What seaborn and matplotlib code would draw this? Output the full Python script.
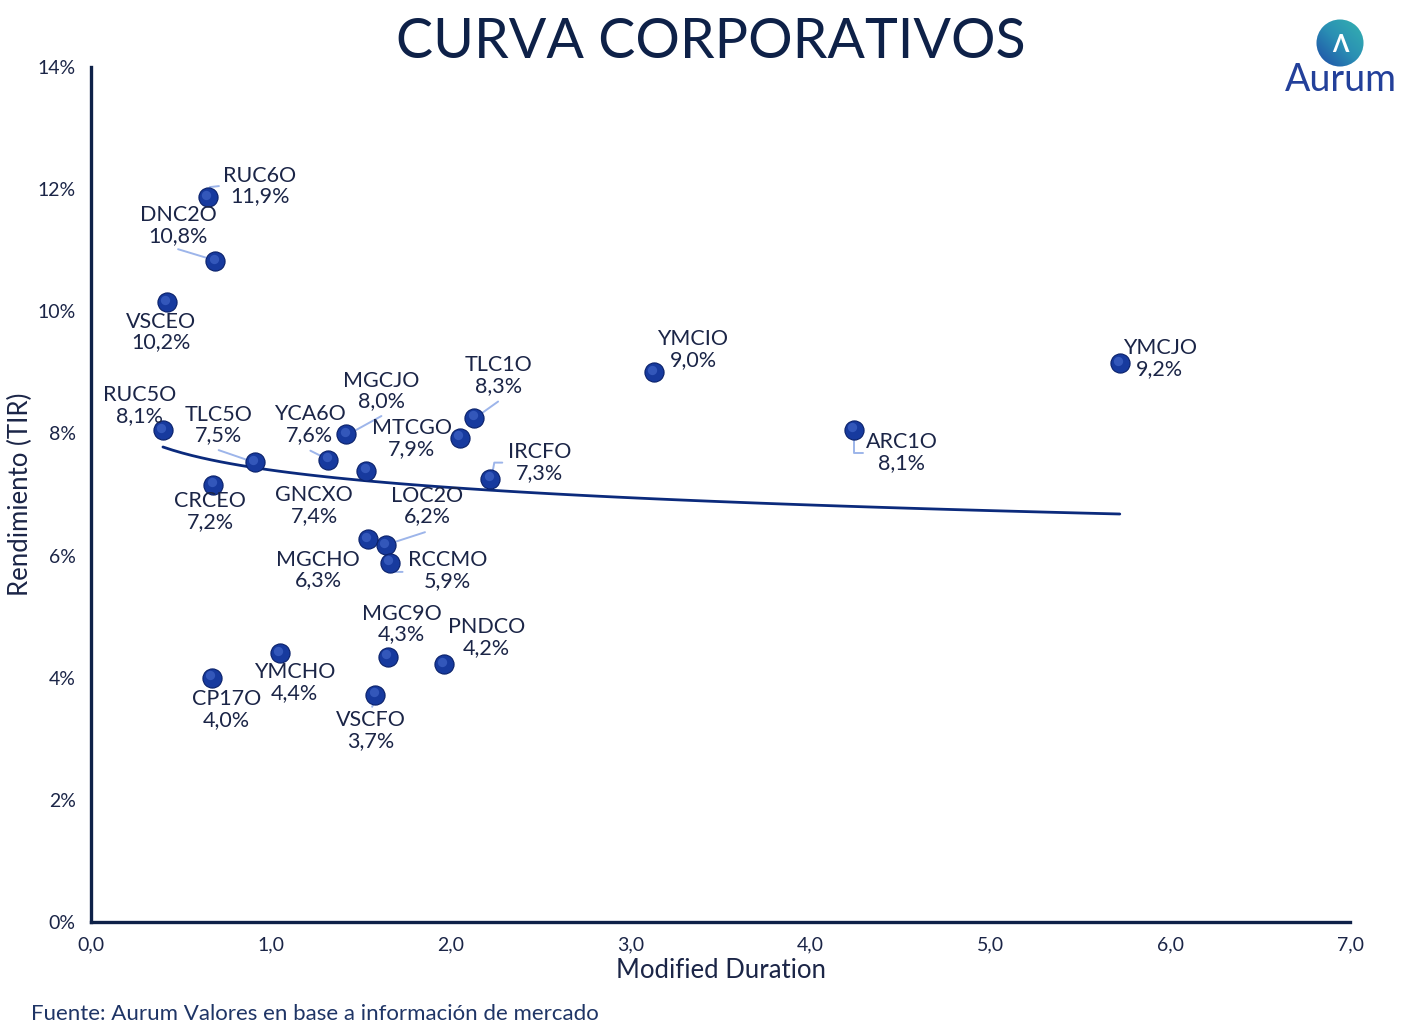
import numpy as np
import pandas as pd
import seaborn as sns
import matplotlib.pyplot as plt
from matplotlib import transforms
from matplotlib.ticker import FuncFormatter
from matplotlib.patches import Circle
from matplotlib.colors import LinearSegmentedColormap

# bonos corporativos: duration modificada vs TIR (%)
bonos = ['RUC6O', 'DNC2O', 'VSCEO', 'YMCIO', 'YMCJO', 'ARC1O', 'RUC5O', 'TLC1O',
         'MGCJO', 'MTCGO', 'YCA6O', 'TLC5O', 'GNCXO', 'IRCFO', 'CRCEO', 'MGCHO',
         'LOC2O', 'RCCMO', 'YMCHO', 'MGC9O', 'PNDCO', 'CP17O', 'VSCFO']
duracion = [0.65, 0.69, 0.42, 3.13, 5.72, 4.24, 0.40, 2.13,
            1.42, 2.05, 1.32, 0.91, 1.53, 2.22, 0.68, 1.54,
            1.64, 1.66, 1.05, 1.65, 1.96, 0.67, 1.58]
tir = [11.87, 10.82, 10.15, 9.00, 9.15, 8.06, 8.05, 8.26,
       7.99, 7.93, 7.57, 7.53, 7.39, 7.26, 7.16, 6.27,
       6.17, 5.88, 4.40, 4.34, 4.22, 4.00, 3.72]

x_ticks = [0, 1, 2, 3, 4, 5, 6, 7]
y_ticks = [0, 2, 4, 6, 8, 10, 12, 14]

df = pd.DataFrame({'bono': bonos, 'duracion': duracion, 'tir': tir})

# posicion de cada etiqueta respecto del punto, en pixeles (dy hacia abajo)
label_pos = {
    'RUC6O': (52, -11), 'DNC2O': (-37, -36), 'VSCEO': (-6, 30), 'YMCIO': (39, -23),
    'YMCJO': (40, -5), 'ARC1O': (48, 23), 'RUC5O': (-23, -25), 'TLC1O': (24, -42),
    'MGCJO': (35, -43), 'MTCGO': (-48, 1), 'YCA6O': (-19, -35), 'TLC5O': (-36, -37),
    'GNCXO': (-52, 35), 'IRCFO': (49, -16), 'CRCEO': (-3, 27), 'MGCHO': (-50, 31),
    'LOC2O': (41, -39), 'RCCMO': (58, 8), 'YMCHO': (15, 29), 'MGC9O': (14, -33),
    'PNDCO': (43, -27), 'CP17O': (15, 32), 'VSCFO': (-4, 36),
}
# lineas guia, tambien en pixeles desde el punto
leaders = {
    'RUC6O': [(2, -10), (11, -11)],
    'DNC2O': [(-37, -12), (-4, -2)],
    'TLC5O': [(-36, -12), (-4, -1)],
    'YCA6O': [(-18, -9), (-4, -2)],
    'MGCJO': [(35, -18), (6, -2)],
    'TLC1O': [(24, -16), (3, -1)],
    'IRCFO': [(2, -5), (4, -16), (12, -16)],
    'LOC2O': [(39, -13), (2, -1)],
    'RCCMO': [(3, 4), (5, 9), (13, 9)],
    'ARC1O': [(0, 4), (0, 23), (9, 23)],
    'VSCFO': [(0, 3), (-3, 12)],
}

navy = '#0e2148'
text_col = '#1b2547'

sns.set_theme(style='white')
plt.rcParams['font.family'] = ['Lato', 'DejaVu Sans']

W, H = 1422, 1033
fig = plt.figure(figsize=(W / 100, H / 100), dpi=100)
ax = fig.add_axes([91 / W, 1 - 922 / H, (1350 - 91) / W, (922 - 67) / H])

# tendencia logaritmica
sns.regplot(data=df, x='duracion', y='tir', logx=True, scatter=False, ci=None,
            line_kws=dict(color='#0b2a7c', lw=2.0, zorder=2), ax=ax)

sns.scatterplot(data=df, x='duracion', y='tir', s=190, color='#173a9e',
                edgecolor='#0a216a', linewidth=0.8, zorder=3, ax=ax, legend=False)
# brillo de las esferas
shine = transforms.offset_copy(ax.transData, fig, x=-1.5, y=2.5, units='dots')
ax.scatter(df.duracion, df.tir, s=45, color='#4f74d6', alpha=0.5,
           linewidths=0, transform=shine, zorder=4)

for _, r in df.iterrows():
    dx, dy = label_pos[r.bono]
    txt = f"{r.bono}\n{r.tir:.1f}%".replace('.', ',')
    ax.annotate(txt, xy=(r.duracion, r.tir), xytext=(dx, -dy),
                textcoords='offset pixels', ha='center', va='center',
                fontsize=15.5, color=text_col, linespacing=1.05, zorder=5)
    if r.bono in leaders:
        pts = leaders[r.bono]
        tr = transforms.Affine2D().scale(1, -1) + \
            transforms.ScaledTranslation(r.duracion, r.tir, ax.transData)
        ax.plot([p[0] for p in pts], [p[1] for p in pts], transform=tr,
                color='#9db5ea', lw=1.4, zorder=2.5)

ax.set_xlim(0, 7)
ax.set_ylim(0, 14)
ax.set_xticks(x_ticks)
ax.set_yticks(y_ticks)
ax.xaxis.set_major_formatter(FuncFormatter(lambda v, p: f"{v:.1f}".replace('.', ',')))
ax.yaxis.set_major_formatter(FuncFormatter(lambda v, p: f"{v:.0f}%"))

sns.despine(ax=ax)
for s in ['left', 'bottom']:
    ax.spines[s].set_color(navy)
    ax.spines[s].set_linewidth(2.4)
ax.tick_params(axis='both', direction='in', length=5, width=2, color=navy,
               labelsize=14, labelcolor=text_col)
ax.tick_params(axis='y', pad=11)
ax.tick_params(axis='x', pad=10)

ax.set_xlabel('Modified Duration', fontsize=18.5, color=text_col)
ax.set_ylabel('Rendimiento (TIR)', fontsize=18.5, color=text_col)
ax.xaxis.set_label_coords(0.5, -0.042)
ax.yaxis.set_label_coords(-0.046, 0.5)

fig.text(0.5, 1 - 42 / H, 'CURVA CORPORATIVOS', ha='center', va='center',
         fontsize=40, color=navy)
fig.text(31 / W, 1 - 1014 / H, 'Fuente: Aurum Valores en base a información de mercado',
         ha='left', va='center', fontsize=16, color='#1f3566')

# logo
lax = fig.add_axes([1316 / W, 1 - 67 / H, 48 / W, 48 / H])
lax.set_xlim(-1, 1)
lax.set_ylim(-1, 1)
lax.axis('off')
grad = np.linspace(0, 1, 100).reshape(1, -1) + np.linspace(0, 1, 100).reshape(-1, 1)
cmap = LinearSegmentedColormap.from_list('aurum', ['#1e4aa6', '#2a8fb4', '#35b3b0'])
im = lax.imshow(grad, extent=(-1, 1, -1, 1), cmap=cmap, origin='lower')
circ = Circle((0, 0), 0.98, transform=lax.transData)
im.set_clip_path(circ)
lax.text(0, -0.05, 'Λ', ha='center', va='center', fontsize=17, color='white',
         fontweight='bold')
fig.text(1341 / W, 1 - 80 / H, 'Aurum', ha='center', va='center',
         fontsize=27, color='#23409a')

fig.savefig('out.png', dpi=100)
